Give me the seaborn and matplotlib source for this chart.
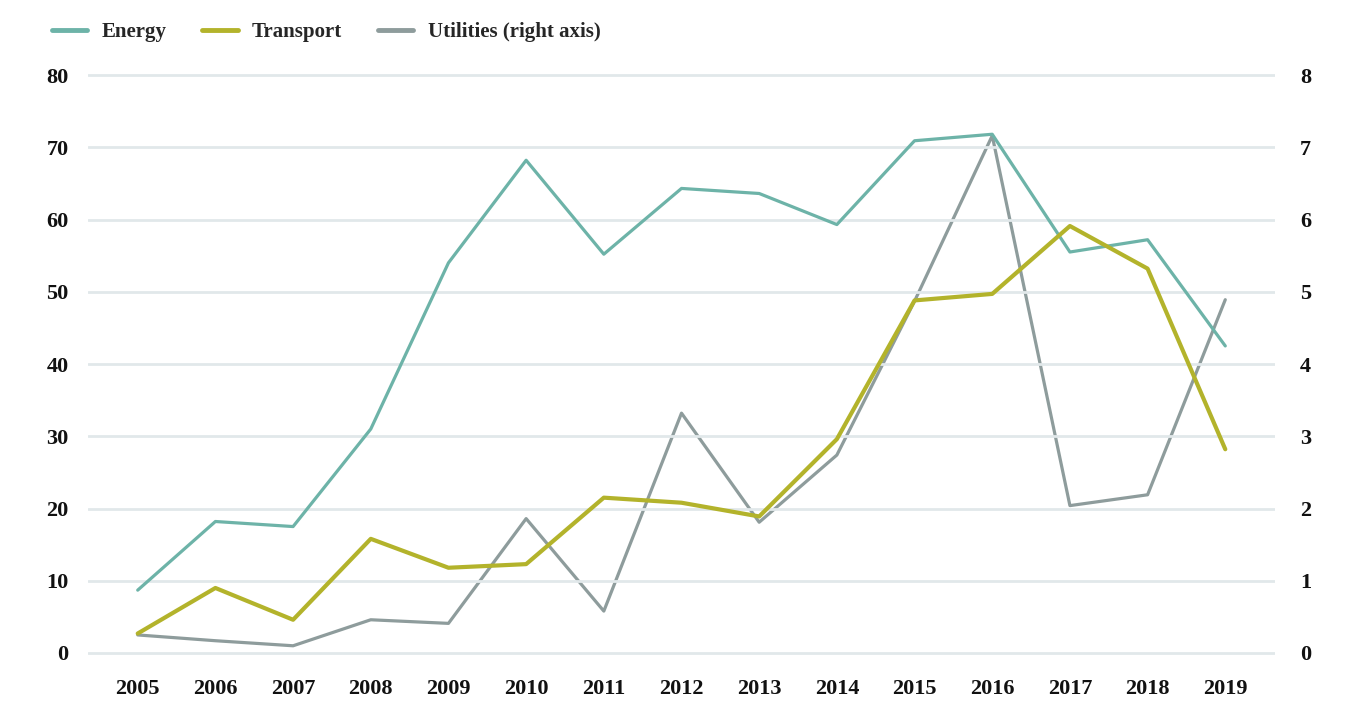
import numpy as np
import pandas as pd
import matplotlib
matplotlib.use("Agg")
import matplotlib.pyplot as plt
from matplotlib.lines import Line2D
import seaborn as sns

years = list(range(2005, 2020))
energy = [8.7, 18.2, 17.5, 31.0, 54.0, 68.2, 55.2, 64.3, 63.6, 59.3, 70.9, 71.8, 55.5, 57.2, 42.5]
transport = [2.7, 9.0, 4.6, 15.8, 11.8, 12.3, 21.5, 20.8, 18.9, 29.6, 48.8, 49.7, 59.1, 53.2, 28.2]
utilities = [0.25, 0.17, 0.1, 0.46, 0.41, 1.86, 0.58, 3.32, 1.81, 2.74, 4.87, 7.16, 2.04, 2.19, 4.89]

left_ticks = [0, 10, 20, 30, 40, 50, 60, 70, 80]
right_ticks = [0, 1, 2, 3, 4, 5, 6, 7, 8]

c_energy = "#6db3a8"
c_transport = "#b3b32b"
c_util = "#8e9c9c"
grid_c = "#e1e8ea"

sns.set_theme(style="white")
plt.rcParams['font.family'] = ['Liberation Serif', 'DejaVu Serif']
plt.rcParams['font.weight'] = 'bold'

df = pd.DataFrame({"year": years * 2,
                   "value": energy + transport,
                   "series": ["Energy"] * len(years) + ["Transport"] * len(years)})
df_u = pd.DataFrame({"year": years, "value": utilities})

fig = plt.figure(figsize=(13.45, 7.13), dpi=100)
pad = 0.5
px_per_unit = 578 / 80
bottom = (713 - 653 - pad * px_per_unit) / 713
height = (578 + 2 * pad * px_per_unit) / 713
ax = fig.add_axes([88 / 1345, bottom, (1275 - 88) / 1345, height])

for v in left_ticks:
    ax.axhline(v, color=grid_c, lw=2, zorder=0)

ax2 = ax.twinx()

sns.lineplot(data=df_u, x="year", y="value", ax=ax2, color=c_util, lw=2.3, legend=False)
sns.lineplot(data=df[df.series == "Energy"], x="year", y="value", ax=ax,
             color=c_energy, lw=2.3, legend=False)
sns.lineplot(data=df[df.series == "Transport"], x="year", y="value", ax=ax,
             color=c_transport, lw=3.0, legend=False)

# draw left axis lines above the twin axis
ax.set_zorder(ax2.get_zorder() + 1)
ax.patch.set_visible(False)

ax.set_xlim(2004.36, 2019.64)
ax.set_ylim(-pad, 80 + pad)
ax2.set_ylim(-pad / 10, 8 + pad / 10)
ax.set_xticks(years)
ax.set_xticklabels([str(y) for y in years])
ax.set_yticks(left_ticks)
ax2.set_yticks(right_ticks)
ax.set_xlabel("")
ax.set_ylabel("")
ax2.set_ylabel("")

for a in (ax, ax2):
    for s in a.spines.values():
        s.set_visible(False)
    a.tick_params(length=0, labelsize=16, colors="#111111")
ax.tick_params(axis="y", pad=14)
ax.tick_params(axis="x", pad=16)
ax2.tick_params(axis="y", pad=18)
ax.grid(False)
ax2.grid(False)

handles = [Line2D([], [], color=c_energy, lw=3.5),
           Line2D([], [], color=c_transport, lw=3.5),
           Line2D([], [], color=c_util, lw=3.5)]
fig.legend(handles, ["Energy", "Transport", "Utilities (right axis)"],
           loc="upper left", bbox_to_anchor=(0.0245, 0.995), ncol=3, frameon=False,
           fontsize=15, handlelength=1.7, columnspacing=1.7, handletextpad=0.7)

fig.savefig("out.png", dpi=100, facecolor="white")
